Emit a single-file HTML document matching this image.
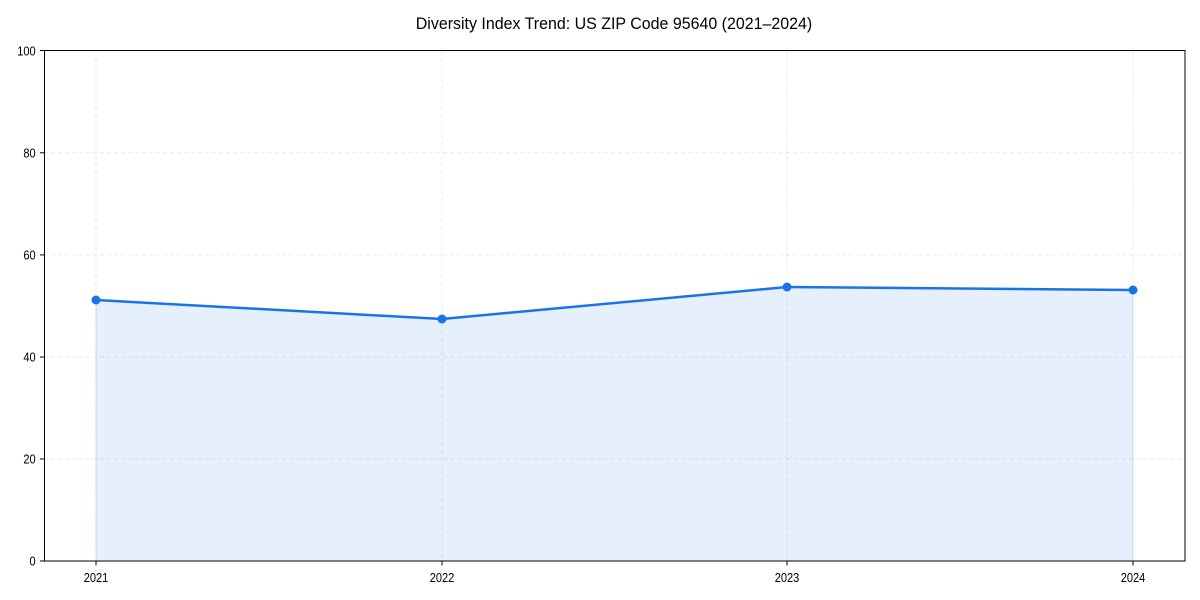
<!DOCTYPE html>
<html><head><meta charset="utf-8"><style>
html,body{margin:0;padding:0;background:#fff;}
svg{display:block;font-family:"Liberation Sans",sans-serif;}
</style></head><body>
<svg width="1200" height="600" viewBox="0 0 1200 600" xmlns="http://www.w3.org/2000/svg">
<rect width="1200" height="600" fill="#fff"/>
<g stroke="#e3e3e3" stroke-width="0.8" stroke-dasharray="4,3">
<line x1="44" y1="152.8" x2="1185" y2="152.8"/>
<line x1="44" y1="254.9" x2="1185" y2="254.9"/>
<line x1="44" y1="357" x2="1185" y2="357"/>
<line x1="44" y1="459" x2="1185" y2="459"/>
<line x1="96" y1="50.5" x2="96" y2="561"/>
<line x1="442" y1="50.5" x2="442" y2="561"/>
<line x1="787" y1="50.5" x2="787" y2="561"/>
<line x1="1133" y1="50.5" x2="1133" y2="561"/>
</g>
<polygon points="96,561 96,300 442,319 787,287 1133,290 1133,561" fill="#1a73e8" fill-opacity="0.11" stroke="#1a73e8" stroke-opacity="0.15" stroke-width="1"/>
<polyline points="96,300 442,319 787,287 1133,290" fill="none" stroke="#1a73e8" stroke-width="2.5"/>
<g fill="#1a73e8"><circle cx="96" cy="300" r="4.5"/><circle cx="442" cy="319" r="4.5"/><circle cx="787" cy="287" r="4.5"/><circle cx="1133" cy="290" r="4.5"/></g>
<rect x="44.5" y="50.5" width="1140.5" height="510.5" fill="none" stroke="#000" stroke-width="1"/>
<g stroke="#000" stroke-width="1">
<line x1="40" y1="50.5" x2="44.5" y2="50.5"/><line x1="40" y1="152.8" x2="44.5" y2="152.8"/><line x1="40" y1="254.9" x2="44.5" y2="254.9"/><line x1="40" y1="357" x2="44.5" y2="357"/><line x1="40" y1="459" x2="44.5" y2="459"/><line x1="40" y1="561" x2="44.5" y2="561"/>
<line x1="96" y1="561" x2="96" y2="565.5"/><line x1="442" y1="561" x2="442" y2="565.5"/><line x1="787" y1="561" x2="787" y2="565.5"/><line x1="1133" y1="561" x2="1133" y2="565.5"/>
</g>
<g font-size="13" fill="#000" text-anchor="end" transform="scale(0.85,1)">
<text x="42" y="55.5">100</text><text x="42" y="157.5">80</text><text x="42" y="259.5">60</text><text x="42" y="361.5">40</text><text x="42" y="463.5">20</text><text x="42" y="565.5">0</text>
</g>
<g font-size="13" fill="#000" text-anchor="middle">
<text x="96" y="582" transform="translate(96,0) scale(0.85,1) translate(-96,0)">2021</text>
<text x="442" y="582" transform="translate(442,0) scale(0.85,1) translate(-442,0)">2022</text>
<text x="787" y="582" transform="translate(787,0) scale(0.85,1) translate(-787,0)">2023</text>
<text x="1133" y="582" transform="translate(1133,0) scale(0.85,1) translate(-1133,0)">2024</text>
</g>
<text x="614" y="29" font-size="17" text-anchor="middle" transform="translate(614,0) scale(0.94,1) translate(-614,0)">Diversity Index Trend: US ZIP Code 95640 (2021–2024)</text>
</svg>
</body></html>
